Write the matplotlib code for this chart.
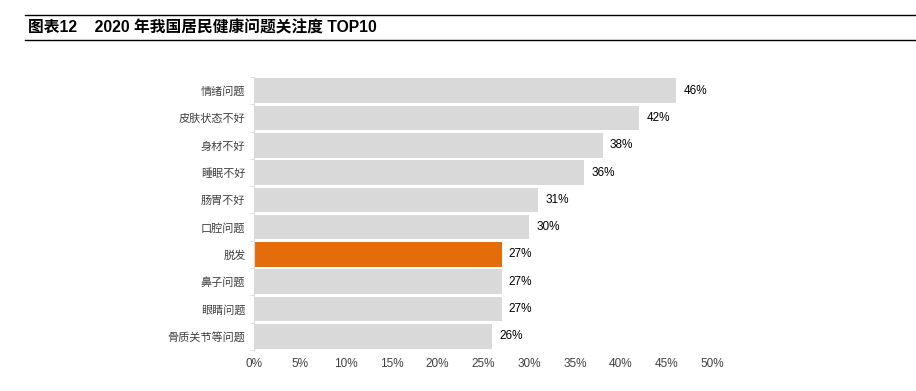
import matplotlib
matplotlib.use("Agg")
import matplotlib.pyplot as plt
from matplotlib.lines import Line2D
import numpy as np

plt.rcParams['font.family'] = ['Noto Sans CJK SC', 'DejaVu Sans']

categories = ['情绪问题', '皮肤状态不好', '身材不好', '睡眠不好', '肠胃不好',
              '口腔问题', '脱发', '鼻子问题', '眼睛问题', '骨质关节等问题']
values = [0.46, 0.42, 0.38, 0.36, 0.31, 0.30, 0.27, 0.27, 0.27, 0.26]
highlight = '脱发'
xticks = [0, 0.05, 0.10, 0.15, 0.20, 0.25, 0.30, 0.35, 0.40, 0.45, 0.50]

gray = '#D9D9D9'
orange = '#E46C0A'

fig = plt.figure(figsize=(9.16, 3.91), dpi=100)
ax = fig.add_axes([0.277, 0.105, 0.501, 0.698])

ypos = np.arange(len(categories))
colors = [orange if c == highlight else gray for c in categories]
ax.barh(ypos, values, height=0.9, color=colors)
ax.set_ylim(len(categories) - 0.5, -0.5)
ax.set_xlim(0, 0.5)

for y, v in zip(ypos, values):
    ax.text(v + 0.008, y, f'{round(v * 100)}%', va='center', ha='left',
            fontsize=8.5, family='Liberation Sans', color='black')

ax.set_yticks(ypos)
ax.set_yticklabels(categories, fontsize=8, color='#404040')
ax.tick_params(axis='y', length=0, pad=6)
ax.set_yticks(np.arange(-0.5, len(categories), 1), minor=True)
ax.tick_params(axis='y', which='minor', length=3, color='#D9D9D9')

ax.set_xticks(xticks)
ax.set_xticklabels([f'{round(t * 100)}%' for t in xticks], fontsize=8.5,
                   family='Liberation Sans', color='#404040')
ax.tick_params(axis='x', length=0, pad=6)

for s in ['top', 'right', 'bottom']:
    ax.spines[s].set_visible(False)
ax.spines['left'].set_color('#D9D9D9')

fig.add_artist(Line2D([25 / 916, 1], [1 - 15 / 391] * 2, color='black', lw=1))
fig.add_artist(Line2D([25 / 916, 1], [1 - 40 / 391] * 2, color='black', lw=1))
fig.text(28 / 916, 1 - 28 / 391, '图表12    2020 年我国居民健康问题关注度 TOP10',
         fontsize=11.3, fontweight='bold', va='center', ha='left', color='black',
         family=['Liberation Sans', 'Noto Sans CJK SC'])

fig.savefig('out.png', dpi=100)
